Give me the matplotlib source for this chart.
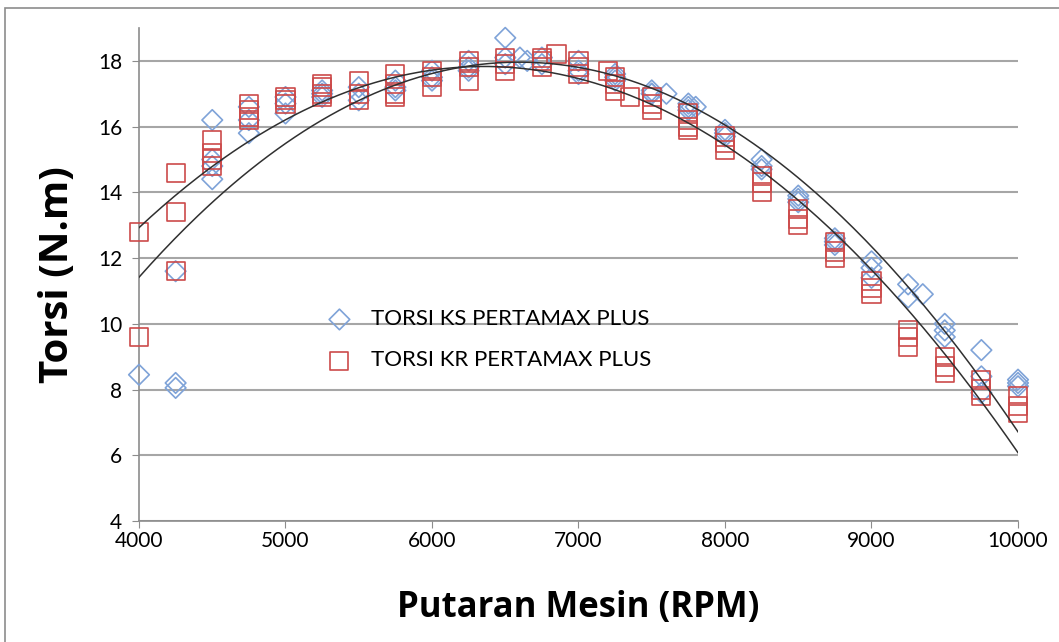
import matplotlib.pyplot as plt
import numpy as np
from matplotlib.patches import Rectangle

# TORSI KS PERTAMAX PLUS (rpm, N.m)
ks_rpm = [4000, 4250, 4250, 4250, 4500, 4500, 4500, 4500, 4750, 4750, 4750,
          5000, 5000, 5000, 5250, 5250, 5250, 5500, 5500, 5500, 5750, 5750, 5750,
          6000, 6000, 6000, 6250, 6250, 6250, 6500, 6500, 6500, 6600, 6650,
          6750, 6750, 7000, 7000, 7000, 7250, 7250, 7250, 7500, 7500, 7500, 7600,
          7750, 7750, 7750, 7800, 8000, 8000, 8000, 8250, 8250, 8250,
          8500, 8500, 8500, 8750, 8750, 8750, 9000, 9000, 9000, 9250, 9250, 9350,
          9500, 9500, 9500, 9750, 9750, 9750, 10000, 10000, 10000]
ks_torsi = [8.45, 11.6, 8.2, 8.05, 16.2, 15.0, 14.8, 14.4, 16.6, 16.2, 15.8,
            16.9, 16.7, 16.4, 17.1, 17.0, 16.9, 17.2, 17.0, 16.8, 17.4, 17.2, 17.1,
            17.7, 17.5, 17.4, 18.0, 17.8, 17.7, 18.7, 18.1, 17.9, 18.1, 18.0,
            18.1, 17.9, 18.0, 17.7, 17.6, 17.6, 17.5, 17.4, 17.1, 17.0, 17.0, 17.0,
            16.7, 16.6, 16.5, 16.6, 15.9, 15.8, 15.7, 15.0, 14.8, 14.7,
            13.9, 13.8, 13.7, 12.6, 12.5, 12.4, 11.9, 11.7, 11.4, 11.2, 10.8, 10.9,
            10.0, 9.8, 9.6, 9.2, 8.4, 7.9, 8.3, 8.2, 8.1]

# TORSI KR PERTAMAX PLUS (rpm, N.m)
kr_rpm = [4000, 4000, 4250, 4250, 4250, 4500, 4500, 4500, 4500, 4750, 4750, 4750, 4750,
          5000, 5000, 5000, 5250, 5250, 5250, 5250, 5500, 5500, 5500,
          5750, 5750, 5750, 5750, 6000, 6000, 6000, 6250, 6250, 6250,
          6500, 6500, 6500, 6750, 6750, 6750, 6850, 7000, 7000, 7000, 7200,
          7250, 7250, 7250, 7350, 7500, 7500, 7500, 7750, 7750, 7750, 7750,
          8000, 8000, 8000, 8250, 8250, 8250, 8500, 8500, 8500, 8750, 8750, 8750,
          9000, 9000, 9000, 9250, 9250, 9250, 9500, 9500, 9500, 9750, 9750, 9750,
          10000, 10000, 10000]
kr_torsi = [12.8, 9.6, 14.6, 13.4, 11.6, 15.6, 15.2, 15.0, 14.8, 16.7, 16.5, 16.3, 16.2,
            16.9, 16.8, 16.7, 17.3, 17.2, 17.0, 16.9, 17.4, 17.0, 16.8,
            17.6, 17.3, 17.0, 16.9, 17.7, 17.5, 17.2, 18.0, 17.8, 17.4,
            18.1, 17.9, 17.7, 18.1, 18.0, 17.8, 18.2, 18.0, 17.8, 17.6, 17.7,
            17.5, 17.3, 17.1, 16.9, 16.9, 16.7, 16.5, 16.4, 16.2, 16.0, 15.9,
            15.7, 15.5, 15.3, 14.5, 14.3, 14.0, 13.5, 13.2, 13.0, 12.5, 12.2, 12.0,
            11.3, 11.1, 10.9, 9.8, 9.6, 9.3, 9.0, 8.7, 8.5, 8.3, 8.0, 7.8,
            7.8, 7.5, 7.3]


def main():
    fig = plt.figure(figsize=(10.59, 6.42), dpi=100)
    ax = fig.add_axes([139 / 1059, 1 - 521 / 642, 879 / 1059, 493 / 642])

    # chart border
    fig.patches.append(Rectangle((5 / 1059, -0.05), 1.1, 1 - 8 / 642 + 0.05,
                                 transform=fig.transFigure, fill=False,
                                 edgecolor='#8c8c8c', linewidth=1.2))

    ax.scatter(ks_rpm, ks_torsi, marker='D', s=110, facecolors='none',
               edgecolors='#7fa3d8', linewidths=1.2, zorder=3, clip_on=False,
               label='TORSI KS PERTAMAX PLUS')
    ax.scatter(kr_rpm, kr_torsi, marker='s', s=170, facecolors='none',
               edgecolors='#cc4a4a', linewidths=1.2, zorder=3, clip_on=False,
               label='TORSI KR PERTAMAX PLUS')

    # polynomial trendlines (order 2)
    xs = np.linspace(4000, 10000, 300)
    for rpm, torsi in [(ks_rpm, ks_torsi), (kr_rpm, kr_torsi)]:
        c = np.polyfit(rpm, torsi, 2)
        ax.plot(xs, np.polyval(c, xs), color='#303030', linewidth=1.1, zorder=4)

    ax.set_xlim(4000, 10000)
    ax.set_ylim(4, 19)
    ax.set_xticks(np.arange(4000, 10001, 1000))
    ax.set_yticks(np.arange(4, 19, 2))
    ax.grid(axis='y', color='#a6a6a6', linewidth=1.5)
    ax.set_axisbelow(True)
    for s in ['top', 'right']:
        ax.spines[s].set_visible(False)
    for s in ['left', 'bottom']:
        ax.spines[s].set_color('#8c8c8c')
        ax.spines[s].set_linewidth(1.2)
    ax.tick_params(direction='out', length=5, color='#8c8c8c', labelsize=15)
    ax.tick_params(axis='x', pad=2)
    ax.tick_params(axis='y', pad=7)
    for lab in ax.get_xticklabels() + ax.get_yticklabels():
        lab.set_fontfamily('Lato')

    ax.set_xlabel('Putaran Mesin (RPM)', fontsize=25, fontweight='bold',
                  fontfamily='Open Sans', labelpad=28)
    ax.set_ylabel('Torsi (N.m)', fontsize=29, fontweight='bold',
                  fontfamily='Open Sans')
    ax.yaxis.set_label_coords(-0.07, 0.5)

    ax.legend(loc='upper left', bbox_to_anchor=(0.18, 0.47), frameon=False,
              prop={'family': 'Lato', 'size': 16}, handletextpad=0.4,
              labelspacing=0.95)

    fig.savefig('out.png', dpi=100)


if __name__ == "__main__":
    main()
